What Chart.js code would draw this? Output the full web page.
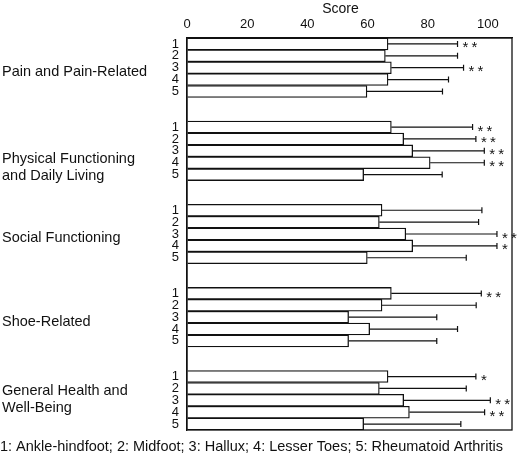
<!DOCTYPE html>
<html>
<head>
<meta charset="utf-8">
<script src="https://cdn.jsdelivr.net/npm/chart.js@4/dist/chart.umd.min.js"></script>
<style>
  html, body { margin: 0; padding: 0; background: #fff; }
  #wrap { width: 520px; height: 458px; position: relative; }
</style>
</head>
<body>
<div id="wrap"><canvas id="c"></canvas></div>
<script>
// ---- data ----
const groupNames = ['Pain and Pain-Related', ['Physical Functioning', 'and Daily Living'], 'Social Functioning', 'Shoe-Related', ['General Health and', 'Well-Being']];
const subgroups = ['1', '2', '3', '4', '5'];
const scoreTicks = [0, 20, 40, 60, 80, 100];
const axisTitle = 'Score';

const meanPain     = [66.8, 65.9, 67.9, 66.8, 59.8];
const meanPhysical = [67.9, 72.0, 75.0, 80.8, 58.7];
const meanSocial   = [64.8, 63.9, 72.7, 75.0, 59.9];
const meanShoe     = [67.9, 64.8, 53.7, 60.7, 53.7];
const meanGeneral  = [66.8, 63.9, 72.0, 73.9, 58.7];

const upperPain     = [89.9, 89.9, 91.9, 86.9, 84.9];
const upperPhysical = [94.9, 96.0, 98.8, 98.8, 84.8];
const upperSocial   = [98.0, 96.9, 103.0, 103.0, 92.8];
const upperShoe     = [97.8, 96.1, 83.0, 89.9, 83.0];
const upperGeneral  = [96.0, 92.8, 100.8, 98.9, 91.0];

const sigPain     = ['**', '', '**', '', ''];
const sigPhysical = ['**', '**', '**', '**', ''];
const sigSocial   = ['', '', '**', '*', ''];
const sigShoe     = ['**', '', '', '', ''];
const sigGeneral  = ['*', '', '**', '**', ''];

const footerText = '1: Ankle-hindfoot; 2: Midfoot; 3: Hallux; 4: Lesser Toes; 5: Rheumatoid Arthritis';

// ---- build flat category table (with empty gap slots between groups) ----
const means = [meanPain, meanPhysical, meanSocial, meanShoe, meanGeneral];
const uppers = [upperPain, upperPhysical, upperSocial, upperShoe, upperGeneral];
const sigs = [sigPain, sigPhysical, sigSocial, sigShoe, sigGeneral];
const GAP = 2;
const labels = [], values = [], upperVals = [], sigVals = [], groupMid = [];
means.forEach((arr, g) => {
  arr.forEach((v, i) => {
    if (i === 2) groupMid.push(labels.length);
    labels.push(subgroups[i]);
    values.push(v);
    upperVals.push(uppers[g][i]);
    sigVals.push(sigs[g][i]);
  });
  if (g < means.length - 1) {
    for (let k = 0; k < GAP; k++) { labels.push(''); values.push(null); upperVals.push(null); sigVals.push(''); }
  }
});

const FONT = "'Liberation Sans', Arial, Helvetica, sans-serif";

const annotPlugin = {
  id: 'annot',
  afterDatasetsDraw(chart, args, opts) {
    const ctx = chart.ctx;
    const xs = chart.scales.x, ys = chart.scales.y;
    const meta = chart.getDatasetMeta(0);
    ctx.save();
    ctx.strokeStyle = '#111';
    ctx.lineWidth = 1.2;
    meta.data.forEach((bar, i) => {
      if (values[i] == null) return;
      const x0 = xs.getPixelForValue(values[i]);
      const x1 = xs.getPixelForValue(upperVals[i]);
      const y = bar.y;
      ctx.beginPath();
      ctx.moveTo(x0, y); ctx.lineTo(x1, y);
      ctx.moveTo(x1, y - 3); ctx.lineTo(x1, y + 3);
      ctx.stroke();
      if (sigVals[i]) {
        ctx.fillStyle = '#111';
        ctx.font = '15px ' + FONT;
        ctx.textAlign = 'left';
        ctx.textBaseline = 'alphabetic';
        [...sigVals[i]].forEach((ch, k) => ctx.fillText(ch, x1 + 5 + k * 9, y + 8.5));
      }
    });
    // frame
    const a = chart.chartArea;
    ctx.lineWidth = 1.3;
    ctx.strokeRect(a.left, a.top, a.right - a.left, a.bottom - a.top);
    // axis title
    ctx.fillStyle = '#111';
    ctx.font = '14px ' + FONT;
    ctx.textAlign = 'center';
    ctx.textBaseline = 'middle';
    ctx.fillText(axisTitle, xs.getPixelForValue(51), 9);
    // group labels
    ctx.font = '14.5px ' + FONT;
    ctx.textAlign = 'left';
    groupNames.forEach((name, g) => {
      const lines = Array.isArray(name) ? name : [name];
      const lh = 17;
      const yc = ys.getPixelForValue(groupMid[g]) + opts.shift[g];
      lines.forEach((t, k) => {
        ctx.fillText(t, 2, yc + (k - (lines.length - 1) / 2) * lh);
      });
    });
    ctx.restore();
  }
};

new Chart(document.getElementById('c'), {
  type: 'bar',
  data: {
    labels: labels,
    datasets: [{
      data: values,
      backgroundColor: '#ffffff',
      borderColor: '#111',
      borderWidth: 1.3,
      barPercentage: 1,
      categoryPercentage: 1
    }]
  },
  options: {
    indexAxis: 'y',
    responsive: true,
    maintainAspectRatio: false,
    animation: false,
    layout: { padding: { left: 0, right: 8, top: 0, bottom: 0 } },
    plugins: {
      legend: { display: false },
      tooltip: { enabled: false },
      title: {
        display: true,
        position: 'bottom',
        align: 'start',
        text: footerText,
        color: '#111',
        font: { family: FONT, size: 14.5, weight: 'normal' },
        padding: { top: 8, bottom: 2.6 }
      },
      annot: { shift: [4, 17, 4, 5, -1] }
    },
    scales: {
      x: {
        position: 'top',
        min: 0,
        max: 108,
        afterBuildTicks: s => { s.ticks = scoreTicks.map(v => ({ value: v })); },
        afterFit: s => { s.height = 38; },
        grid: { display: true, drawOnChartArea: false, drawTicks: false, tickLength: 0 },
        border: { display: true, color: '#111', width: 1.3 },
        ticks: { color: '#111', font: { family: FONT, size: 13 }, padding: 6, maxRotation: 0 },
        title: { display: false }
      },
      y: {
        type: 'category',
        afterFit: s => { s.width = 187; },
        grid: { display: false, drawTicks: false },
        border: { display: true, color: '#111', width: 1.3 },
        ticks: { color: '#111', font: { family: FONT, size: 13 }, padding: 8, autoSkip: false }
      }
    }
  },
  plugins: [annotPlugin]
});
</script>
</body>
</html>
